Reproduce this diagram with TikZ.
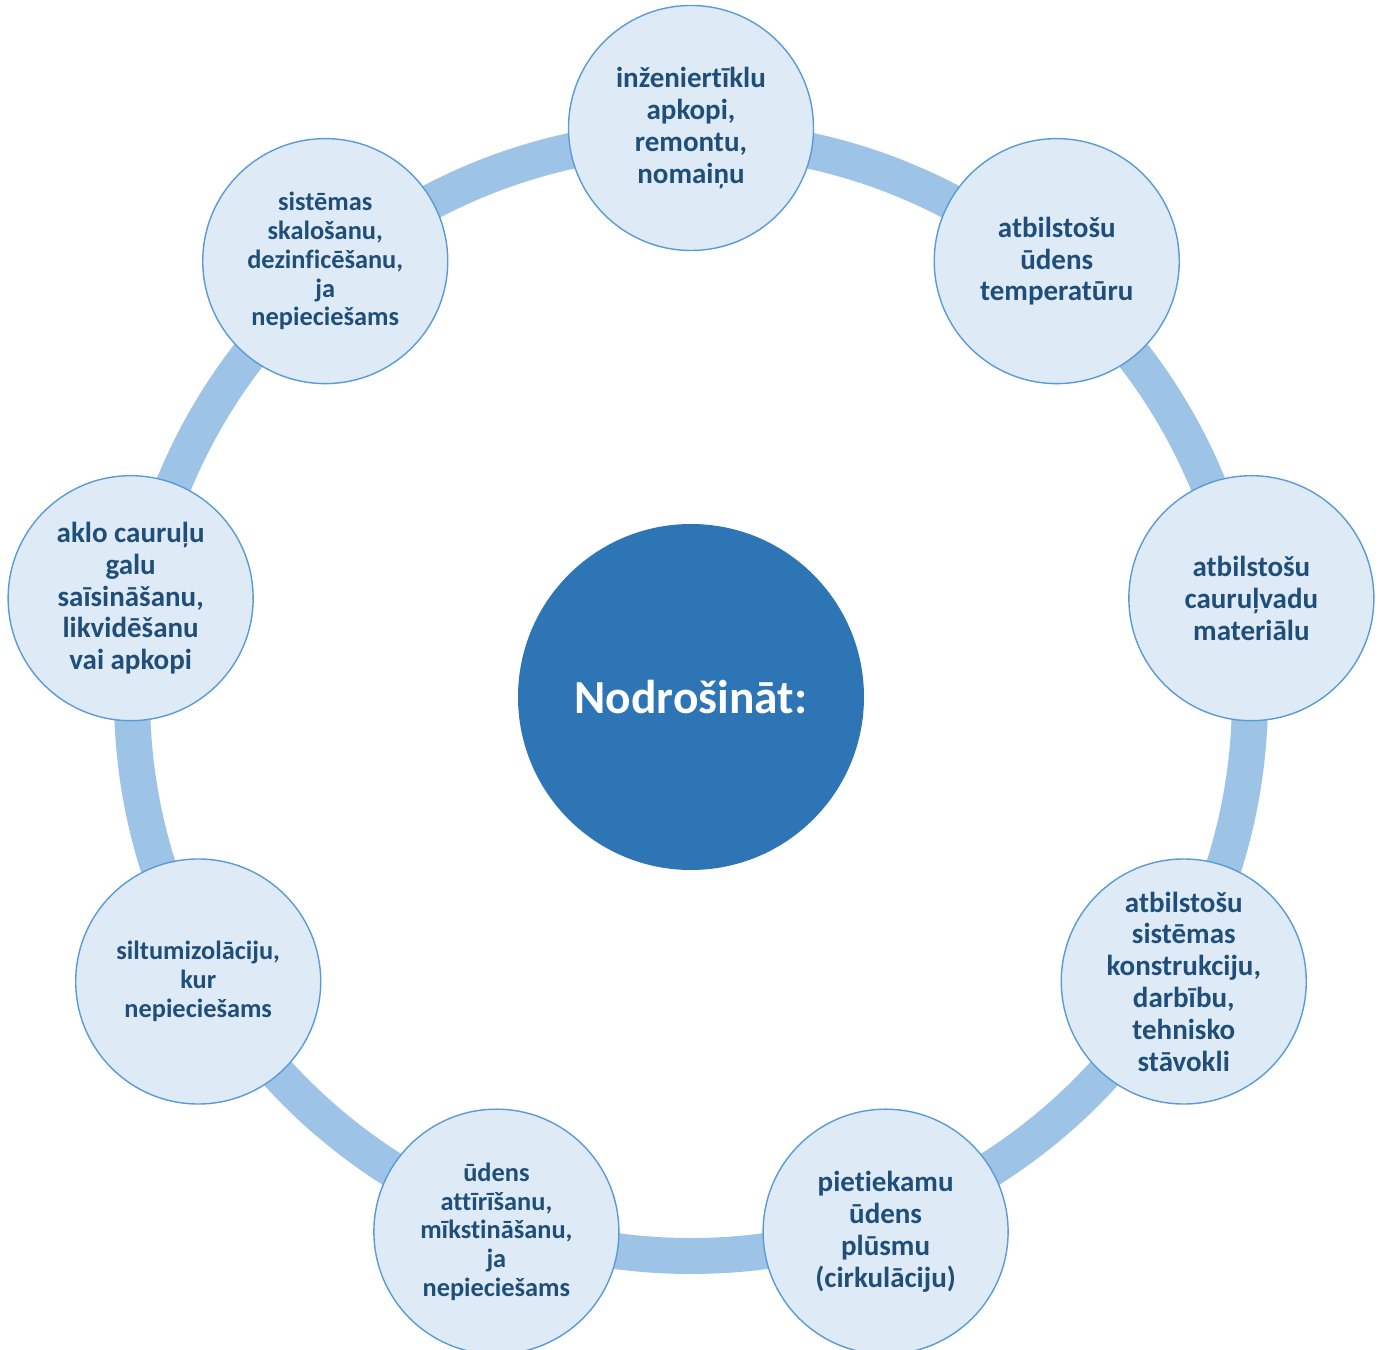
\documentclass[tikz,border=0pt]{standalone}
\usepackage{fontspec}
\setmainfont{Carlito}[Ligatures=NoCommon]
\usepackage{xcolor}
\usetikzlibrary{positioning}
\pgfdeclarelayer{background}
\pgfsetlayers{background,main}
\definecolor{ringblue}{HTML}{9DC3E6}
\definecolor{itemfill}{HTML}{DEEBF7}
\definecolor{itemline}{HTML}{5B9BD5}
\definecolor{itemtext}{HTML}{1F4E79}
\definecolor{hubblue}{HTML}{2E75B6}

\begin{document}
\begin{tikzpicture}[
            hub/.style={circle,fill=hubblue,minimum size=6.92cm,inner sep=0pt,text=white,font=\fontsize{27}{32}\selectfont\bfseries},
            item/.style={circle,fill=itemfill,draw=itemline,line width=0.8pt,minimum size=4.9cm,inner sep=0pt,align=center,text=itemtext,font=\fontsize{16.5}{18.1}\selectfont\bfseries},
            small/.style={font=\fontsize{15}{16.4}\selectfont\bfseries},
            ring/.style={draw=ringblue,line width=0.72cm}
        ]
        \useasboundingbox (-13.82,-13.06) rectangle (13.84,13.94);

        % Draw centre %
        \node[hub] (hub) at (0,0) {Nodrošināt:};

        % Draw items round the ring %
        \node[item] (i1) at (90:11.38) {inženiertīklu\\apkopi,\\remontu,\\nomaiņu};
        \node[item] (i2) at (50:11.38) {atbilstošu\\ūdens\\temperatūru};
        \node[item] (i3) at (10:11.38) {atbilstošu\\cauruļvadu\\materiālu};
        \node[item] (i4) at (-30:11.38) {atbilstošu\\sistēmas\\konstrukciju,\\darbību,\\tehnisko\\stāvokli};
        \node[item] (i5) at (-70:11.38) {pietiekamu\\ūdens\\plūsmu\\(cirkulāciju)};
        \node[item,small] (i6) at (-110:11.38) {ūdens\\attīrīšanu,\\mīkstināšanu,\\ja\\nepieciešams};
        \node[item,small] (i7) at (-150:11.38) {siltumizolāciju,\\kur\\nepieciešams};
        \node[item] (i8) at (170:11.38) {aklo cauruļu\\galu\\saīsināšanu,\\likvidēšanu\\vai apkopi};
        \node[item,small] (i9) at (130:11.38) {sistēmas\\skalošanu,\\dezinficēšanu,\\ja\\nepieciešams};

        % Draw ring %
        \begin{pgfonlayer}{background}
            \draw[ring] (hub.center) circle (11.18);
        \end{pgfonlayer}
\end{tikzpicture}
\end{document}
